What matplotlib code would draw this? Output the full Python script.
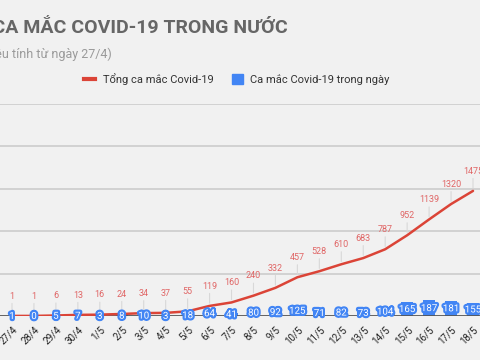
import matplotlib
matplotlib.use("Agg")
import matplotlib.pyplot as plt
import matplotlib.patheffects as pe
from matplotlib.lines import Line2D
from matplotlib.patches import Patch

plt.rcParams['font.family'] = ['Roboto', 'DejaVu Sans']

# Du lieu doc tu hinh
ngay = ["27/4", "28/4", "29/4", "30/4", "1/5", "2/5", "3/5", "4/5", "5/5", "6/5", "7/5",
        "8/5", "9/5", "10/5", "11/5", "12/5", "13/5", "14/5", "15/5", "16/5", "17/5", "18/5"]
ca_trong_ngay = [1, 0, 5, 7, 3, 8, 10, 3, 18, 64, 41, 80, 92, 125, 71, 82, 73, 104, 165, 187, 181, 155]
tong_ca = [1, 1, 6, 13, 16, 24, 34, 37, 55, 119, 160, 240, 332, 457, 528, 610, 683, 787, 952,
           1139, 1320, 1475]

DO = "#db4437"
XANH = "#4285f4"
NEN = "#f1f1f1"

fig = plt.figure(figsize=(4.8, 3.6), dpi=100, facecolor=NEN)
# truc bi cat mat ben trai, giong anh goc
ax = fig.add_axes([0.0, 44 / 360, 1.0, 212 / 360])
ax.set_facecolor(NEN)

x = list(range(len(ngay)))

# luoi ngang
for g in [500, 1000, 1500, 2000, 2500]:
    ax.axhline(g, color="#cfcfcf", lw=1.3, zorder=0)

# cot ca mac trong ngay
ax.bar(x, ca_trong_ngay, width=0.55, color=XANH, zorder=2)
ax.axhline(0, color="#555555", lw=2, zorder=3)

# duong tong ca
ax.plot(x, tong_ca, color=DO, lw=1.8, zorder=4, solid_capstyle="round")

# nhan tong ca (co duong dan)
for xi, v in zip(x, tong_ca):
    ax.annotate(str(v), xy=(xi, v), xytext=(0, 11), textcoords="offset points",
                ha="center", va="bottom", fontsize=6.5, color="#e06666",
                arrowprops=dict(arrowstyle="-", color="#d8d8d8", lw=0.8,
                                shrinkA=0, shrinkB=2),
                annotation_clip=False, zorder=5)

# nhan ca trong ngay
for xi, v in zip(x, ca_trong_ngay):
    ax.text(xi, v / 2, str(v), ha="center", va="center", fontsize=7, color="white",
            zorder=6, clip_on=False,
            path_effects=[pe.Stroke(linewidth=3.2, foreground=XANH), pe.Normal()])

ax.set_xlim(-12 / 21.95, 21 + 7 / 21.95)
ax.set_ylim(0, 2500)
ax.set_xticks(x)
ax.set_xticklabels(ngay, rotation=45, ha="right", rotation_mode="anchor",
                   fontsize=7, color="#222222")
ax.tick_params(axis="x", length=0, pad=6)
ax.set_yticks([])
for s in ax.spines.values():
    s.set_visible(False)

# tieu de (bi cat ben trai)
fig.text(288 / 480, 1 - 28 / 360, "SỐ CA MẮC COVID-19 TRONG NƯỚC", ha="right", va="center",
         fontsize=14, fontweight="bold", color="#666666")
fig.text(112 / 480, 1 - 54 / 360, "(Số liệu tính từ ngày 27/4)", ha="right", va="center",
         fontsize=9, color="#9a9a9a")

# chu thich
handles = [Line2D([0], [0], color=DO, lw=3),
           Patch(facecolor=XANH, edgecolor=XANH)]
fig.legend(handles, ["Tổng ca mắc Covid-19", "Ca mắc Covid-19 trong ngày"],
           loc="center", bbox_to_anchor=(237 / 480, 1 - 79 / 360), ncol=2, frameon=False,
           fontsize=8, handlelength=1.0, handleheight=1.0, handletextpad=0.7,
           columnspacing=1.6, labelcolor="#333333")

fig.savefig("out.png", dpi=100, facecolor=NEN)
